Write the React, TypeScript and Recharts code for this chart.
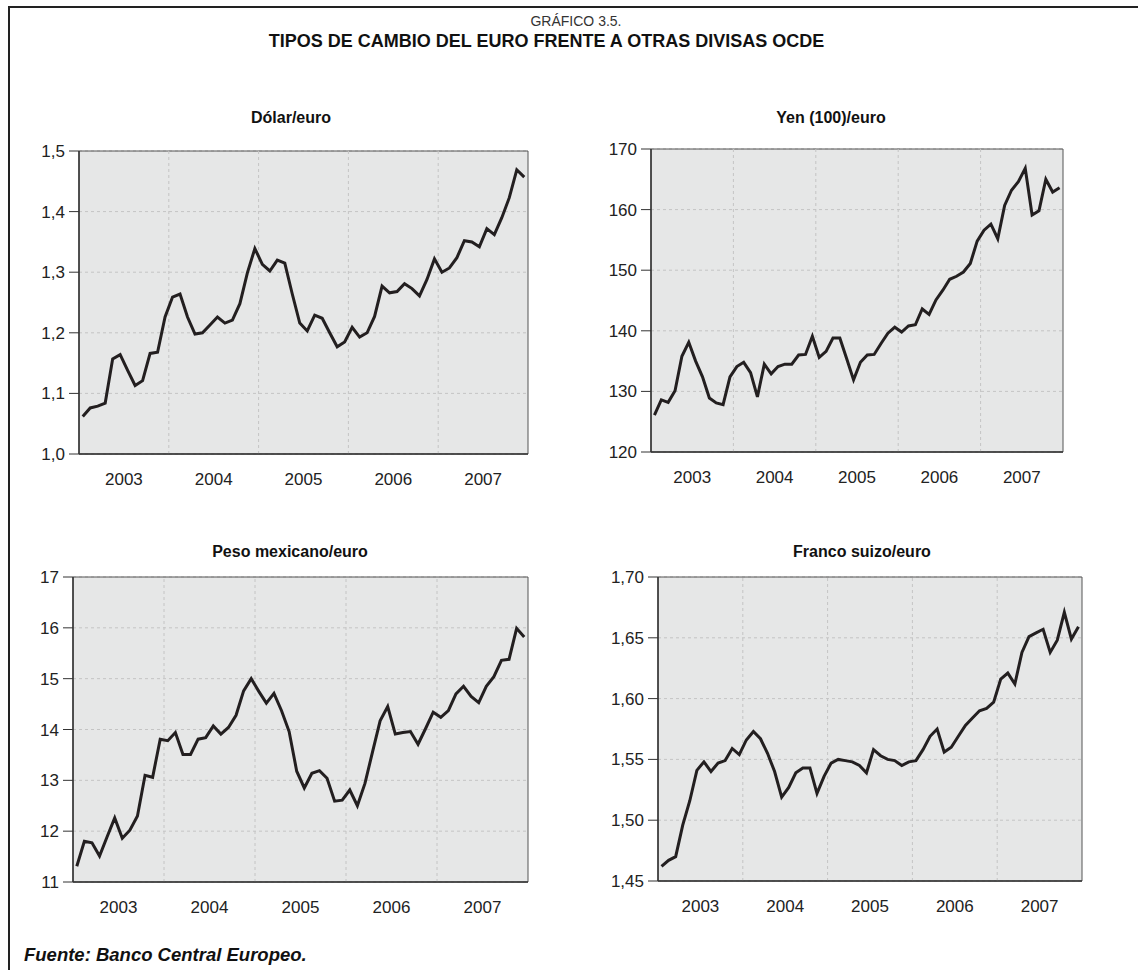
import {
  LineChart,
  Line,
  XAxis,
  YAxis,
  CartesianGrid,
  ReferenceLine,
  ReferenceArea
} from 'recharts'

const years = ['2003', '2004', '2005', '2006', '2007']

// monthly averages, Jan 2003 .. Dec 2007
const dolar = [
  1.062, 1.076, 1.079, 1.084, 1.157, 1.164, 1.138, 1.113, 1.121, 1.166, 1.168, 1.226,
  1.259, 1.264, 1.226, 1.198, 1.2, 1.213, 1.226, 1.216, 1.221, 1.248, 1.299, 1.339,
  1.313, 1.302, 1.32, 1.315, 1.264, 1.216, 1.203, 1.229, 1.224, 1.2, 1.177, 1.185,
  1.209, 1.193, 1.2, 1.227, 1.277, 1.266, 1.268, 1.281, 1.273, 1.261, 1.288, 1.322,
  1.3, 1.307, 1.324, 1.352, 1.35, 1.342, 1.372, 1.362, 1.39, 1.423, 1.469, 1.457
]

const yen = [
  126.1, 128.6, 128.2, 130.1, 135.8, 138.1, 135.0, 132.4, 128.9, 128.1, 127.8, 132.4,
  134.1, 134.8, 133.1, 129.1, 134.5, 132.9, 134.1, 134.5, 134.5, 136.0, 136.1, 139.1,
  135.6, 136.6, 138.8, 138.8, 135.4, 131.9, 134.8, 136.0, 136.1, 137.9, 139.6, 140.6,
  139.8, 140.8, 141.0, 143.6, 142.7, 145.1, 146.7, 148.5, 149.0, 149.7, 151.1, 154.8,
  156.6, 157.6, 155.2, 160.7, 163.2, 164.6, 166.8, 159.1, 159.8, 165.0, 162.9, 163.6
]

const peso = [
  11.31, 11.8, 11.77, 11.51, 11.89, 12.26, 11.86, 12.02, 12.3, 13.1, 13.06, 13.81,
  13.78, 13.94, 13.51, 13.51, 13.81, 13.84, 14.07, 13.91, 14.04, 14.28, 14.76, 15.0,
  14.75, 14.52, 14.71, 14.37, 13.96, 13.18, 12.85, 13.14, 13.19, 13.04, 12.59, 12.61,
  12.81, 12.5, 12.94, 13.56, 14.17, 14.45, 13.91, 13.94, 13.96, 13.71, 14.02, 14.34,
  14.24, 14.37, 14.7, 14.85, 14.65, 14.53, 14.85, 15.04, 15.36, 15.38, 15.99, 15.82
]

const franco = [
  1.462, 1.467, 1.47, 1.496, 1.516, 1.541, 1.548, 1.54, 1.547, 1.549, 1.559, 1.554,
  1.566, 1.573, 1.567, 1.555, 1.54, 1.519, 1.527, 1.539, 1.543, 1.543, 1.522, 1.536,
  1.547, 1.55, 1.549, 1.548, 1.545, 1.539, 1.558, 1.553, 1.55, 1.549, 1.545, 1.548,
  1.549, 1.558, 1.569, 1.575, 1.556, 1.56, 1.569, 1.578, 1.584, 1.59, 1.592, 1.597,
  1.616, 1.621, 1.612, 1.638, 1.651, 1.654, 1.657, 1.638, 1.648, 1.671, 1.649, 1.659
]

const dolarTicks = [1.0, 1.1, 1.2, 1.3, 1.4, 1.5]
const yenTicks = [120, 130, 140, 150, 160, 170]
const pesoTicks = [11, 12, 13, 14, 15, 16, 17]
const francoTicks = [1.45, 1.5, 1.55, 1.6, 1.65, 1.7]

const FONT = '"Liberation Sans", Arial, Helvetica, sans-serif'
const yearCenters = years.map((_, k) => k * 12 + 5.5)
const yearBounds = [11.5, 23.5, 35.5, 47.5]

type PanelProps = {
  title: string
  values: number[]
  ticks: number[]
  decimals: number
  plot: [number, number, number, number]
  titlePos: [number, number]
}

function Panel({ title, values, ticks, decimals, plot, titlePos }: PanelProps) {
  const [x0, y0, x1, y1] = plot
  const axisW = 62
  const data = values.map((v, i) => ({ i, v }))
  const lo = ticks[0]
  const hi = ticks[ticks.length - 1]
  const fmt = (v: number) => v.toFixed(decimals).replace('.', ',')
  return (
    <>
      <div
        style={{
          position: 'absolute',
          left: titlePos[0] - 150,
          top: titlePos[1] - 10,
          width: 300,
          textAlign: 'center',
          fontFamily: FONT,
          fontWeight: 'bold',
          fontSize: 16,
          lineHeight: '20px',
          color: '#111'
        }}
      >
        {title}
      </div>
      <div style={{ position: 'absolute', left: x0 - axisW, top: y0 - 12 }}>
        <LineChart
          width={x1 - x0 + axisW + 10}
          height={y1 - y0 + 12 + 40}
          data={data}
          margin={{ top: 12, right: 10, bottom: 0, left: 0 }}
        >
          <CartesianGrid
            vertical={false}
            fill="#e6e7e7"
            stroke="#c4c4c4"
            strokeDasharray="3 3"
          />
          {yearBounds.map((b) => (
            <ReferenceLine key={b} x={b} stroke="#c4c4c4" strokeDasharray="3 3" />
          ))}
          <ReferenceArea
            x1={-0.5}
            x2={59.5}
            y1={lo}
            y2={hi}
            fill="none"
            stroke="#555"
            strokeWidth={1}
          />
          <XAxis
            type="number"
            dataKey="i"
            domain={[-0.5, 59.5]}
            ticks={yearCenters}
            tickFormatter={(v: number) => years[Math.floor(v / 12)]}
            interval={0}
            tickLine={false}
            axisLine={{ stroke: '#333', strokeWidth: 1.5 }}
            tickMargin={13}
            height={40}
            tick={{ fill: '#222', fontSize: 17, fontFamily: FONT }}
          />
          <YAxis
            type="number"
            domain={[lo, hi]}
            ticks={ticks}
            interval={0}
            tickFormatter={fmt}
            width={axisW}
            tickSize={10}
            tickMargin={4}
            axisLine={{ stroke: '#333', strokeWidth: 1.5 }}
            tickLine={{ stroke: '#333' }}
            tick={{ fill: '#222', fontSize: 17, fontFamily: FONT }}
          />
          <Line
            type="linear"
            dataKey="v"
            stroke="#231f20"
            strokeWidth={3}
            dot={false}
            isAnimationActive={false}
          />
        </LineChart>
      </div>
    </>
  )
}

export default function App() {
  return (
    <div
      style={{
        position: 'absolute',
        left: 0,
        top: 0,
        width: 1138,
        height: 970,
        overflow: 'hidden',
        background: '#fff'
      }}
    >
      <div style={{ position: 'absolute', left: 8, top: 6, width: 1130, height: 2, background: '#222' }} />
      <div style={{ position: 'absolute', left: 8, top: 6, width: 2, height: 964, background: '#222' }} />
      <div
        style={{
          position: 'absolute',
          left: 0,
          top: 12,
          width: 1152,
          textAlign: 'center',
          fontFamily: FONT,
          fontSize: 14,
          lineHeight: '18px',
          color: '#333'
        }}
      >
        GRÁFICO 3.5.
      </div>
      <div
        style={{
          position: 'absolute',
          left: 0,
          top: 30,
          width: 1093,
          textAlign: 'center',
          fontFamily: FONT,
          fontWeight: 'bold',
          fontSize: 18,
          lineHeight: '22px',
          color: '#111'
        }}
      >
        TIPOS DE CAMBIO DEL EURO FRENTE A OTRAS DIVISAS OCDE
      </div>

      <Panel title="Dólar/euro" values={dolar} ticks={dolarTicks} decimals={1}
        plot={[79, 151, 528, 454]} titlePos={[291, 118]} />
      <Panel title="Yen (100)/euro" values={yen} ticks={yenTicks} decimals={0}
        plot={[651, 149, 1063, 452]} titlePos={[831, 118]} />
      <Panel title="Peso mexicano/euro" values={peso} ticks={pesoTicks} decimals={0}
        plot={[73, 577, 528, 882]} titlePos={[290, 552]} />
      <Panel title="Franco suizo/euro" values={franco} ticks={francoTicks} decimals={2}
        plot={[658, 577, 1082, 881]} titlePos={[862, 552]} />

      <div
        style={{
          position: 'absolute',
          left: 24,
          top: 944,
          fontFamily: FONT,
          fontWeight: 'bold',
          fontStyle: 'italic',
          fontSize: 18.5,
          lineHeight: '22px',
          color: '#111'
        }}
      >
        Fuente: Banco Central Europeo.
      </div>
    </div>
  )
}
